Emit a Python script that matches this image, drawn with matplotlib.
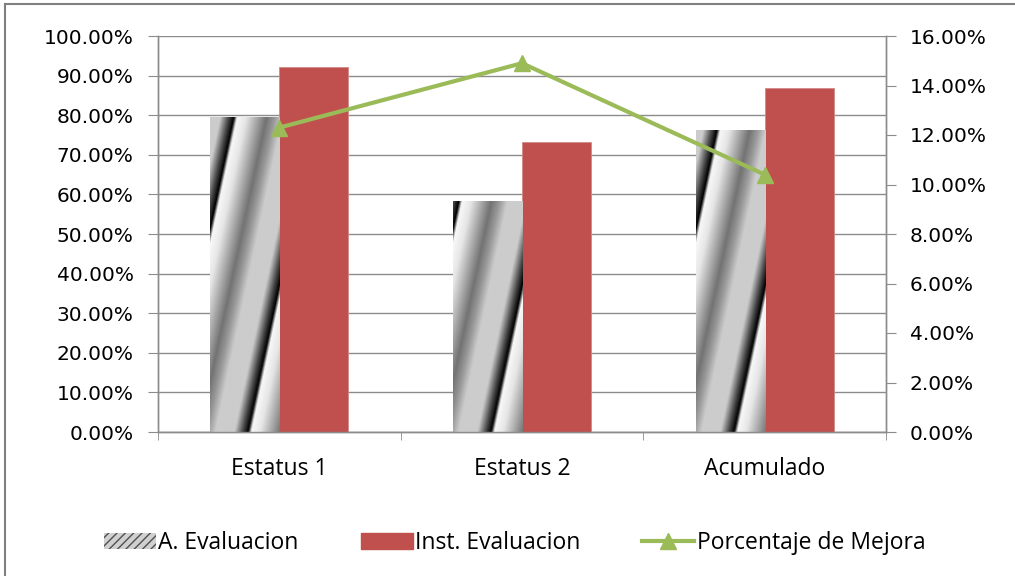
#Bar chart with a line on a second axis, Excel style
import numpy as np
import matplotlib.pyplot as plt
from matplotlib.patches import Patch
from matplotlib.lines import Line2D
from matplotlib.ticker import PercentFormatter

categories = ['Estatus 1', 'Estatus 2', 'Acumulado']
a_evaluacion = [79.5, 58.4, 76.3]
inst_evaluacion = [92.2, 73.3, 86.8]
porcentaje_mejora = [12.3, 14.9, 10.4]

left_ticks = np.arange(0, 101, 10)
right_ticks = np.arange(0, 17, 2)

red = '#C0504D'
green = '#9BBB59'
grid_color = '#8C8C8C'
tick_font = 'DejaVu Sans'
label_font = 'Open Sans'


#gray diagonal stripe texture (pixel sized) used to fill the first series
def stripe_texture(w, h, period=80.0, slant=0.21, offset=37.0):
    yy, xx = np.mgrid[0:h, 0:w]
    u = (xx - offset - slant * (h - yy)) / period
    p = u - np.floor(u)
    pts = [0.0, 0.04, 0.15, 0.4, 0.5, 0.6, 0.83, 0.93, 1.0]
    vals = [0.0, 0.97, 0.9, 0.45, 0.6, 0.8, 0.8, 0.3, 0.0]
    return np.interp(p, pts, vals)


fig = plt.figure(figsize=(10.15, 5.76), dpi=100)
ax = fig.add_axes([158 / 1015, 1 - 432 / 576, 728 / 1015, 396 / 576])
ax2 = ax.twinx()

x = np.arange(len(categories))
width = 0.285

bars_a = ax.bar(x - width / 2, a_evaluacion, width, color='none', edgecolor='none', zorder=3)
bars_b = ax.bar(x + width / 2, inst_evaluacion, width, color=red, edgecolor='#D08A88',
                linewidth=0.6, zorder=3)

ax.set_xlim(-0.5, len(categories) - 0.5)
ax.set_ylim(0, 100)

px_per_x = 728 / len(categories)
px_per_y = 396 / 100
for b in bars_a:
    x0, w, h = b.get_x(), b.get_width(), b.get_height()
    tex = stripe_texture(int(round(w * px_per_x)), int(round(h * px_per_y)))
    im = ax.imshow(tex, cmap='gray', vmin=0, vmax=1, extent=[x0, x0 + w, 0, h],
                   aspect='auto', origin='upper', zorder=3, interpolation='bilinear')
    im.set_clip_path(b)

ax.set_xlim(-0.5, len(categories) - 0.5)
ax.set_ylim(0, 100)
ax.set_yticks(left_ticks)
ax.yaxis.set_major_formatter(PercentFormatter(100, decimals=2))
ax.yaxis.grid(True, color=grid_color, linewidth=1.0, zorder=0)
ax.set_axisbelow(True)

ax.set_xticks(x)
ax.set_xticklabels(categories, fontfamily=label_font, fontsize=16.5)
ax.set_xticks(np.arange(-0.5, len(categories), 1.0), minor=True)
ax.tick_params(axis='x', which='major', length=0, pad=18)
ax.tick_params(axis='x', which='minor', length=6, color=grid_color, direction='out')
ax.tick_params(axis='y', length=7, color=grid_color, labelsize=14.5, pad=10.5)
for lbl in ax.get_yticklabels():
    lbl.set_fontfamily(tick_font)

ax2.plot(x, porcentaje_mejora, color=green, linewidth=3, marker='^', markersize=11,
         zorder=5)
ax2.set_ylim(0, 16)
ax2.set_yticks(right_ticks)
ax2.yaxis.set_major_formatter(PercentFormatter(100, decimals=2))
ax2.tick_params(axis='y', length=7, color=grid_color, labelsize=14.5, pad=10)
for lbl in ax2.get_yticklabels():
    lbl.set_fontfamily(tick_font)

for a in (ax, ax2):
    a.spines['top'].set_visible(False)
    for s in ('left', 'right', 'bottom'):
        a.spines[s].set_color(grid_color)
        a.spines[s].set_linewidth(1.0)

handles = [
    Patch(facecolor='#D0D0D0', edgecolor='#505050', hatch='////', linewidth=0),
    Patch(facecolor=red, edgecolor=red),
    Line2D([0], [0], color=green, linewidth=3, marker='^', markersize=11),
]
labels = ['A. Evaluacion', 'Inst. Evaluacion', 'Porcentaje de Mejora']
fig.legend(handles, labels, loc='center', bbox_to_anchor=(0.507, 1 - 543 / 576), ncol=3,
           frameon=False, prop={'family': label_font, 'size': 16.5}, columnspacing=2.7,
           handlelength=2.27, handletextpad=0.1)

#outer chart border (only top and left edges are visible in the picture)
fig.add_artist(Line2D([5 / 1015, 1.0], [1 - 4 / 576] * 2, color='#7F7F7F', linewidth=1.5,
                      transform=fig.transFigure))
fig.add_artist(Line2D([5 / 1015] * 2, [0.0, 1 - 4 / 576], color='#7F7F7F', linewidth=1.5,
                      transform=fig.transFigure))

fig.savefig('out.png', dpi=100)
